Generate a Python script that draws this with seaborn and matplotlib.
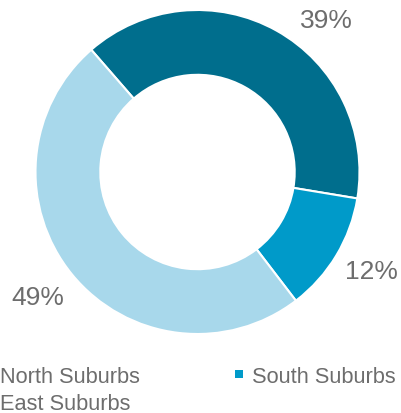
import numpy as np
import matplotlib
matplotlib.use("Agg")
import matplotlib.pyplot as plt
from matplotlib.lines import Line2D
import seaborn as sns

# Share of listings by area
areas = ["North Suburbs", "South Suburbs", "East Suburbs"]
shares = [39, 12, 49]
colors = ["#006e8d", "#009ac9", "#a8d8eb"]

sns.set_theme(style="white")
plt.rcParams["font.family"] = ["Liberation Sans", "DejaVu Sans"]
text_gray = "#6d6d6d"

W, H = 401, 414
fig = plt.figure(figsize=(W / 100, H / 100), dpi=100)
ax = fig.add_axes([0, 0, 1, 1])

start = 131
wedges, _ = ax.pie(
    shares, colors=colors, startangle=start, counterclock=False,
    radius=1.0, wedgeprops=dict(width=0.4, edgecolor="white", linewidth=1.5),
)

# ring placement in pixels
cx, cy, R = 197.5, 173, 162
ax.set_aspect("auto")
ax.set_xlim(-cx / R, (W - cx) / R)
ax.set_ylim((cy - H) / R, cy / R)
ax.axis("off")

# percentage labels outside the ring
label_r = [1.227, 1.238, 1.25]
angle_shift = [-11.1, 1.4, -1.1]
ang = start
for share, r, shift in zip(shares, label_r, angle_shift):
    span = share / sum(shares) * 360
    mid = np.deg2rad(ang - span / 2 + shift)
    ax.text(r * np.cos(mid), r * np.sin(mid), f"{share}%",
            ha="center", va="center", fontsize=19, color=text_gray)
    ang -= span

# legend: column order North/East then South
order = [0, 2, 1]
handles = [Line2D([], [], marker="s", linestyle="none", markersize=6,
                  markerfacecolor=colors[i], markeredgewidth=0) for i in order]
labels = [areas[i] for i in order]
leg = fig.legend(
    handles, labels, ncol=2, loc="upper left",
    bbox_to_anchor=(-19 / W, 1 - 367 / H), frameon=False, fontsize=15.7,
    labelcolor=text_gray, handlelength=0.5, handletextpad=0.35,
    columnspacing=4.3, borderpad=0, borderaxespad=0, labelspacing=0.28,
)

fig.savefig("out.png", dpi=100)
